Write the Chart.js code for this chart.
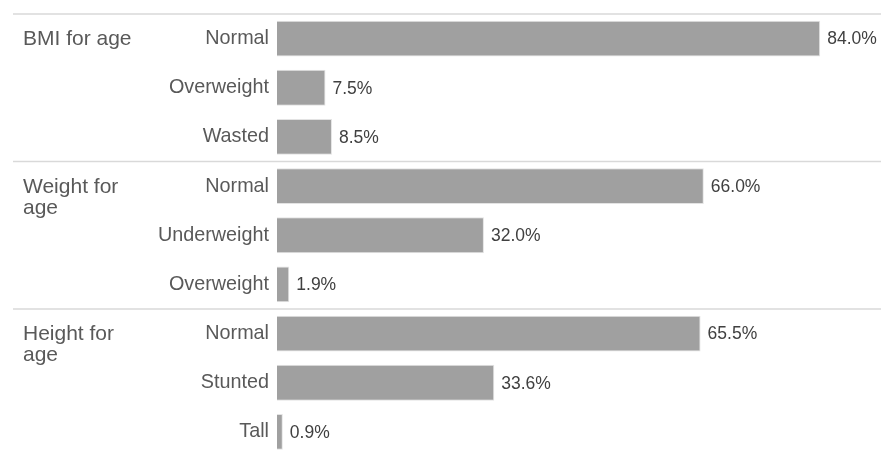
<!DOCTYPE html>
<html>
<head>
<meta charset="utf-8">
<script src="https://cdn.jsdelivr.net/npm/chart.js@4"></script>
<style>
  html, body { margin: 0; padding: 0; background: #fff; overflow: hidden; }
  #wrap { position: relative; width: 881px; height: 470px; }
</style>
</head>
<body>
<div id="wrap"><canvas id="chartBar"></canvas></div>
<script>
const groups = [
  ["BMI for age"],
  ["Weight for", "age"],
  ["Height for", "age"],
];
const labels = [
  "Normal", "Overweight", "Wasted",
  "Normal", "Underweight", "Overweight",
  "Normal", "Stunted", "Tall",
];
const values = [84.0, 7.5, 8.5, 66.0, 32.0, 1.9, 65.5, 33.6, 0.9];
const rowsPerGroup = 3;

// group labels + separator lines
const groupPlugin = {
  id: "groups",
  afterDraw(chart) {
    const ctx = chart.ctx;
    const y = chart.scales.y;
    const area = chart.chartArea;
    const half = (y.getPixelForValue(1) - y.getPixelForValue(0)) / 2;
    ctx.save();
    ctx.strokeStyle = "#d9d9d9";
    ctx.lineWidth = 1.5;
    for (let g = 0; g <= groups.length; g++) {
      const py = g === 0 ? area.top : y.getPixelForValue(g * rowsPerGroup - 1) + half;
      ctx.beginPath();
      ctx.moveTo(13, py);
      ctx.lineTo(chart.width, py);
      ctx.stroke();
    }
    ctx.fillStyle = "#595959";
    ctx.font = "21px 'Liberation Sans', Arial, sans-serif";
    ctx.textBaseline = "middle";
    ctx.textAlign = "left";
    groups.forEach((lines, g) => {
      const py = y.getPixelForValue(g * rowsPerGroup) + 1;
      lines.forEach((t, i) => ctx.fillText(t, 23, py + i * 21));
    });
    ctx.restore();
  },
};

// value labels at bar ends
const valuePlugin = {
  id: "values",
  afterDatasetsDraw(chart) {
    const ctx = chart.ctx;
    const meta = chart.getDatasetMeta(0);
    ctx.save();
    ctx.fillStyle = "#404040";
    ctx.font = "17.5px 'Liberation Sans', Arial, sans-serif";
    ctx.textBaseline = "middle";
    ctx.textAlign = "left";
    meta.data.forEach((bar, i) => {
      ctx.fillText(values[i].toFixed(1) + "%", bar.x + 7, bar.y + 1);
    });
    ctx.restore();
  },
};

const data = {
  labels: labels,
  datasets: [
    {
      data: values,
      backgroundColor: "#a0a0a0",
      borderColor: "#e3e3e3",
      borderWidth: 1,
      categoryPercentage: 1,
      barPercentage: 0.73,
    },
  ],
};

new Chart(document.getElementById("chartBar"), {
  type: "bar",
  data,
  plugins: [groupPlugin, valuePlugin],
  options: {
    indexAxis: "y",
    responsive: true,
    maintainAspectRatio: false,
    animation: false,
    layout: { padding: { top: 14, bottom: 13.5, left: 0, right: 0 } },
    plugins: { legend: { display: false }, tooltip: { enabled: false } },
    scales: {
      x: {
        display: false,
        min: 0,
        max: 93.4,
      },
      y: {
        border: { display: false },
        grid: { display: false, drawTicks: false },
        afterFit(scale) {
          scale.width = 277;
          scale.paddingTop = 0;
          scale.paddingBottom = 0;
        },
        ticks: {
          color: "#595959",
          padding: 8,
          font: { family: "'Liberation Sans', Arial, sans-serif", size: 19.8 },
        },
      },
    },
  },
});
</script>
</body>
</html>
